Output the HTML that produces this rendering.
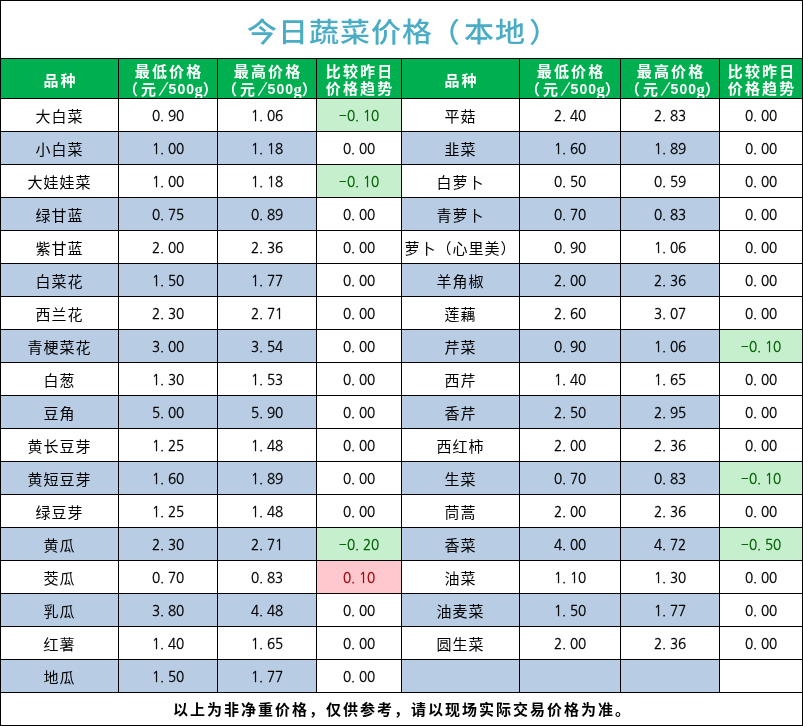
<!DOCTYPE html><html lang="zh-CN"><head><meta charset="utf-8"><title>今日蔬菜价格</title><style>
*{margin:0;padding:0;box-sizing:border-box}
html,body{width:803px;height:726px;background:#fff;overflow:hidden}
body{position:relative;font-family:"Liberation Sans","Noto Sans CJK SC",sans-serif}
.f{position:absolute}
.c{position:absolute;white-space:nowrap;text-align:center}
.t{font-family:"Liberation Sans","Noto Sans CJK SC",sans-serif;font-size:15px;letter-spacing:1px;text-indent:0px;line-height:32px;color:#000}
.t span{display:inline-block;transform:scaleY(1);position:relative;top:2px}
.n{font-family:"NanumGothic","Liberation Sans",sans-serif;font-size:13.5px;line-height:32px;color:#000}
.n span{display:inline-block;position:relative;top:1px;left:0px}
.n i{font-style:normal;display:inline-block;width:8px;text-align:left;-webkit-text-stroke:0.3px currentColor}
.n i.d{text-indent:0px}
.n i.m{position:relative;top:-1px;-webkit-text-stroke:0;font-family:"Liberation Sans",sans-serif}
.h{font-family:"Liberation Sans","Noto Sans CJK SC",sans-serif;font-weight:700;font-size:15px;color:#fff;line-height:17px;letter-spacing:2.2px;text-indent:2.2px}
.p{position:absolute;white-space:nowrap;font-family:"Liberation Sans","Noto Sans CJK SC",sans-serif;font-weight:700;font-size:15px;color:#fff;line-height:17px}
.p.g{font-family:"Liberation Serif",serif;font-size:16.5px}
.p.s{font-family:"Liberation Sans",sans-serif;font-size:14px;letter-spacing:1px}
.lh{position:absolute;background:#000;height:1px}
.lv{position:absolute;background:#000;width:1px}
.title{position:absolute;left:1px;top:4px;width:801px;height:57px;line-height:57px;text-align:center;font-family:"Liberation Sans","Noto Sans CJK SC",sans-serif;font-size:30px;font-weight:500;color:#4BACC6;transform:scaleY(0.92);letter-spacing:1px;text-indent:1px;white-space:nowrap}
.foot{position:absolute;left:1px;top:694px;width:801px;height:32px;line-height:32px;text-align:center;font-family:"Liberation Sans","Noto Sans CJK SC",sans-serif;font-size:15px;font-weight:700;color:#000;letter-spacing:2px;text-indent:2px;white-space:nowrap}
</style></head><body>
<div class="title">今日蔬菜价格<span style="position:relative;left:-3px">（</span>本地<span style="position:relative;left:3px">）</span></div>
<div class="f" style="left:1px;top:59px;width:117px;height:39px;background:#00B050"></div>
<div class="f" style="left:119px;top:59px;width:98px;height:39px;background:#00B050"></div>
<div class="f" style="left:218px;top:59px;width:98px;height:39px;background:#00B050"></div>
<div class="f" style="left:317px;top:59px;width:84px;height:39px;background:#00B050"></div>
<div class="f" style="left:402px;top:59px;width:117px;height:39px;background:#00B050"></div>
<div class="f" style="left:520px;top:59px;width:100px;height:39px;background:#00B050"></div>
<div class="f" style="left:621px;top:59px;width:98px;height:39px;background:#00B050"></div>
<div class="f" style="left:720px;top:59px;width:82px;height:39px;background:#00B050"></div>
<div class="c h" style="left:1px;top:72px;width:117px">品种</div>
<div class="c h" style="left:119px;top:63px;width:98px">最低价格</div>
<div class="p" style="left:123.0px;top:81px">（</div>
<div class="p" style="left:141.0px;top:81px">元</div>
<div class="p" style="left:161.0px;top:79.5px;font-weight:400;font-family:DejaVu Sans,sans-serif;transform:skewX(-18deg);font-size:16px">/</div>
<div class="p s" style="left:168.6px;top:81px">500</div>
<div class="p g" style="left:194.5px;top:80.5px">g</div>
<div class="p" style="left:202.7px;top:81px">）</div>
<div class="c h" style="left:218px;top:63px;width:98px">最高价格</div>
<div class="p" style="left:222.0px;top:81px">（</div>
<div class="p" style="left:240.0px;top:81px">元</div>
<div class="p" style="left:260.0px;top:79.5px;font-weight:400;font-family:DejaVu Sans,sans-serif;transform:skewX(-18deg);font-size:16px">/</div>
<div class="p s" style="left:267.6px;top:81px">500</div>
<div class="p g" style="left:293.5px;top:80.5px">g</div>
<div class="p" style="left:301.7px;top:81px">）</div>
<div class="c h" style="left:317px;top:63px;width:84px">比较昨日</div>
<div class="c h" style="left:317px;top:80px;width:84px">价格趋势</div>
<div class="c h" style="left:402px;top:72px;width:117px">品种</div>
<div class="c h" style="left:520px;top:63px;width:100px">最低价格</div>
<div class="p" style="left:525.0px;top:81px">（</div>
<div class="p" style="left:543.0px;top:81px">元</div>
<div class="p" style="left:563.0px;top:79.5px;font-weight:400;font-family:DejaVu Sans,sans-serif;transform:skewX(-18deg);font-size:16px">/</div>
<div class="p s" style="left:570.6px;top:81px">500</div>
<div class="p g" style="left:596.5px;top:80.5px">g</div>
<div class="p" style="left:604.7px;top:81px">）</div>
<div class="c h" style="left:621px;top:63px;width:98px">最高价格</div>
<div class="p" style="left:625.0px;top:81px">（</div>
<div class="p" style="left:643.0px;top:81px">元</div>
<div class="p" style="left:663.0px;top:79.5px;font-weight:400;font-family:DejaVu Sans,sans-serif;transform:skewX(-18deg);font-size:16px">/</div>
<div class="p s" style="left:670.6px;top:81px">500</div>
<div class="p g" style="left:696.5px;top:80.5px">g</div>
<div class="p" style="left:704.7px;top:81px">）</div>
<div class="c h" style="left:720px;top:63px;width:82px">比较昨日</div>
<div class="c h" style="left:720px;top:80px;width:82px">价格趋势</div>
<div class="c t" style="left:1px;top:99px;width:117px;height:32px;"><span>大白菜</span></div>
<div class="c n" style="left:119px;top:99px;width:98px;height:32px;text-align:left;padding-left:33px;"><span><i>0</i><i class="d">.</i><i>9</i><i>0</i></span></div>
<div class="c n" style="left:218px;top:99px;width:98px;height:32px;text-align:left;padding-left:33px;"><span><i>1</i><i class="d">.</i><i>0</i><i>6</i></span></div>
<div class="c n" style="left:317px;top:99px;width:84px;height:32px;background:#C6EFCE;color:#006100;text-align:left;padding-left:22px;"><span><i class="m">−</i><i>0</i><i class="d">.</i><i>1</i><i>0</i></span></div>
<div class="c t" style="left:402px;top:99px;width:117px;height:32px;"><span>平菇</span></div>
<div class="c n" style="left:520px;top:99px;width:100px;height:32px;text-align:left;padding-left:34px;"><span><i>2</i><i class="d">.</i><i>4</i><i>0</i></span></div>
<div class="c n" style="left:621px;top:99px;width:98px;height:32px;text-align:left;padding-left:33px;"><span><i>2</i><i class="d">.</i><i>8</i><i>3</i></span></div>
<div class="c n" style="left:720px;top:99px;width:82px;height:32px;text-align:left;padding-left:25px;"><span><i>0</i><i class="d">.</i><i>0</i><i>0</i></span></div>
<div class="c t" style="left:1px;top:132px;width:117px;height:32px;background:#B8CCE4;"><span>小白菜</span></div>
<div class="c n" style="left:119px;top:132px;width:98px;height:32px;background:#B8CCE4;text-align:left;padding-left:33px;"><span><i>1</i><i class="d">.</i><i>0</i><i>0</i></span></div>
<div class="c n" style="left:218px;top:132px;width:98px;height:32px;background:#B8CCE4;text-align:left;padding-left:33px;"><span><i>1</i><i class="d">.</i><i>1</i><i>8</i></span></div>
<div class="c n" style="left:317px;top:132px;width:84px;height:32px;text-align:left;padding-left:26px;"><span><i>0</i><i class="d">.</i><i>0</i><i>0</i></span></div>
<div class="c t" style="left:402px;top:132px;width:117px;height:32px;background:#B8CCE4;"><span>韭菜</span></div>
<div class="c n" style="left:520px;top:132px;width:100px;height:32px;background:#B8CCE4;text-align:left;padding-left:34px;"><span><i>1</i><i class="d">.</i><i>6</i><i>0</i></span></div>
<div class="c n" style="left:621px;top:132px;width:98px;height:32px;background:#B8CCE4;text-align:left;padding-left:33px;"><span><i>1</i><i class="d">.</i><i>8</i><i>9</i></span></div>
<div class="c n" style="left:720px;top:132px;width:82px;height:32px;text-align:left;padding-left:25px;"><span><i>0</i><i class="d">.</i><i>0</i><i>0</i></span></div>
<div class="c t" style="left:1px;top:165px;width:117px;height:32px;"><span>大娃娃菜</span></div>
<div class="c n" style="left:119px;top:165px;width:98px;height:32px;text-align:left;padding-left:33px;"><span><i>1</i><i class="d">.</i><i>0</i><i>0</i></span></div>
<div class="c n" style="left:218px;top:165px;width:98px;height:32px;text-align:left;padding-left:33px;"><span><i>1</i><i class="d">.</i><i>1</i><i>8</i></span></div>
<div class="c n" style="left:317px;top:165px;width:84px;height:32px;background:#C6EFCE;color:#006100;text-align:left;padding-left:22px;"><span><i class="m">−</i><i>0</i><i class="d">.</i><i>1</i><i>0</i></span></div>
<div class="c t" style="left:402px;top:165px;width:117px;height:32px;"><span>白萝卜</span></div>
<div class="c n" style="left:520px;top:165px;width:100px;height:32px;text-align:left;padding-left:34px;"><span><i>0</i><i class="d">.</i><i>5</i><i>0</i></span></div>
<div class="c n" style="left:621px;top:165px;width:98px;height:32px;text-align:left;padding-left:33px;"><span><i>0</i><i class="d">.</i><i>5</i><i>9</i></span></div>
<div class="c n" style="left:720px;top:165px;width:82px;height:32px;text-align:left;padding-left:25px;"><span><i>0</i><i class="d">.</i><i>0</i><i>0</i></span></div>
<div class="c t" style="left:1px;top:198px;width:117px;height:32px;background:#B8CCE4;"><span>绿甘蓝</span></div>
<div class="c n" style="left:119px;top:198px;width:98px;height:32px;background:#B8CCE4;text-align:left;padding-left:33px;"><span><i>0</i><i class="d">.</i><i>7</i><i>5</i></span></div>
<div class="c n" style="left:218px;top:198px;width:98px;height:32px;background:#B8CCE4;text-align:left;padding-left:33px;"><span><i>0</i><i class="d">.</i><i>8</i><i>9</i></span></div>
<div class="c n" style="left:317px;top:198px;width:84px;height:32px;text-align:left;padding-left:26px;"><span><i>0</i><i class="d">.</i><i>0</i><i>0</i></span></div>
<div class="c t" style="left:402px;top:198px;width:117px;height:32px;background:#B8CCE4;"><span>青萝卜</span></div>
<div class="c n" style="left:520px;top:198px;width:100px;height:32px;background:#B8CCE4;text-align:left;padding-left:34px;"><span><i>0</i><i class="d">.</i><i>7</i><i>0</i></span></div>
<div class="c n" style="left:621px;top:198px;width:98px;height:32px;background:#B8CCE4;text-align:left;padding-left:33px;"><span><i>0</i><i class="d">.</i><i>8</i><i>3</i></span></div>
<div class="c n" style="left:720px;top:198px;width:82px;height:32px;text-align:left;padding-left:25px;"><span><i>0</i><i class="d">.</i><i>0</i><i>0</i></span></div>
<div class="c t" style="left:1px;top:231px;width:117px;height:32px;"><span>紫甘蓝</span></div>
<div class="c n" style="left:119px;top:231px;width:98px;height:32px;text-align:left;padding-left:33px;"><span><i>2</i><i class="d">.</i><i>0</i><i>0</i></span></div>
<div class="c n" style="left:218px;top:231px;width:98px;height:32px;text-align:left;padding-left:33px;"><span><i>2</i><i class="d">.</i><i>3</i><i>6</i></span></div>
<div class="c n" style="left:317px;top:231px;width:84px;height:32px;text-align:left;padding-left:26px;"><span><i>0</i><i class="d">.</i><i>0</i><i>0</i></span></div>
<div class="c t" style="left:402px;top:231px;width:117px;height:32px;"><span>萝卜（心里美）</span></div>
<div class="c n" style="left:520px;top:231px;width:100px;height:32px;text-align:left;padding-left:34px;"><span><i>0</i><i class="d">.</i><i>9</i><i>0</i></span></div>
<div class="c n" style="left:621px;top:231px;width:98px;height:32px;text-align:left;padding-left:33px;"><span><i>1</i><i class="d">.</i><i>0</i><i>6</i></span></div>
<div class="c n" style="left:720px;top:231px;width:82px;height:32px;text-align:left;padding-left:25px;"><span><i>0</i><i class="d">.</i><i>0</i><i>0</i></span></div>
<div class="c t" style="left:1px;top:264px;width:117px;height:32px;background:#B8CCE4;"><span>白菜花</span></div>
<div class="c n" style="left:119px;top:264px;width:98px;height:32px;background:#B8CCE4;text-align:left;padding-left:33px;"><span><i>1</i><i class="d">.</i><i>5</i><i>0</i></span></div>
<div class="c n" style="left:218px;top:264px;width:98px;height:32px;background:#B8CCE4;text-align:left;padding-left:33px;"><span><i>1</i><i class="d">.</i><i>7</i><i>7</i></span></div>
<div class="c n" style="left:317px;top:264px;width:84px;height:32px;text-align:left;padding-left:26px;"><span><i>0</i><i class="d">.</i><i>0</i><i>0</i></span></div>
<div class="c t" style="left:402px;top:264px;width:117px;height:32px;background:#B8CCE4;"><span>羊角椒</span></div>
<div class="c n" style="left:520px;top:264px;width:100px;height:32px;background:#B8CCE4;text-align:left;padding-left:34px;"><span><i>2</i><i class="d">.</i><i>0</i><i>0</i></span></div>
<div class="c n" style="left:621px;top:264px;width:98px;height:32px;background:#B8CCE4;text-align:left;padding-left:33px;"><span><i>2</i><i class="d">.</i><i>3</i><i>6</i></span></div>
<div class="c n" style="left:720px;top:264px;width:82px;height:32px;text-align:left;padding-left:25px;"><span><i>0</i><i class="d">.</i><i>0</i><i>0</i></span></div>
<div class="c t" style="left:1px;top:297px;width:117px;height:32px;"><span>西兰花</span></div>
<div class="c n" style="left:119px;top:297px;width:98px;height:32px;text-align:left;padding-left:33px;"><span><i>2</i><i class="d">.</i><i>3</i><i>0</i></span></div>
<div class="c n" style="left:218px;top:297px;width:98px;height:32px;text-align:left;padding-left:33px;"><span><i>2</i><i class="d">.</i><i>7</i><i>1</i></span></div>
<div class="c n" style="left:317px;top:297px;width:84px;height:32px;text-align:left;padding-left:26px;"><span><i>0</i><i class="d">.</i><i>0</i><i>0</i></span></div>
<div class="c t" style="left:402px;top:297px;width:117px;height:32px;"><span>莲藕</span></div>
<div class="c n" style="left:520px;top:297px;width:100px;height:32px;text-align:left;padding-left:34px;"><span><i>2</i><i class="d">.</i><i>6</i><i>0</i></span></div>
<div class="c n" style="left:621px;top:297px;width:98px;height:32px;text-align:left;padding-left:33px;"><span><i>3</i><i class="d">.</i><i>0</i><i>7</i></span></div>
<div class="c n" style="left:720px;top:297px;width:82px;height:32px;text-align:left;padding-left:25px;"><span><i>0</i><i class="d">.</i><i>0</i><i>0</i></span></div>
<div class="c t" style="left:1px;top:330px;width:117px;height:32px;background:#B8CCE4;"><span>青梗菜花</span></div>
<div class="c n" style="left:119px;top:330px;width:98px;height:32px;background:#B8CCE4;text-align:left;padding-left:33px;"><span><i>3</i><i class="d">.</i><i>0</i><i>0</i></span></div>
<div class="c n" style="left:218px;top:330px;width:98px;height:32px;background:#B8CCE4;text-align:left;padding-left:33px;"><span><i>3</i><i class="d">.</i><i>5</i><i>4</i></span></div>
<div class="c n" style="left:317px;top:330px;width:84px;height:32px;text-align:left;padding-left:26px;"><span><i>0</i><i class="d">.</i><i>0</i><i>0</i></span></div>
<div class="c t" style="left:402px;top:330px;width:117px;height:32px;background:#B8CCE4;"><span>芹菜</span></div>
<div class="c n" style="left:520px;top:330px;width:100px;height:32px;background:#B8CCE4;text-align:left;padding-left:34px;"><span><i>0</i><i class="d">.</i><i>9</i><i>0</i></span></div>
<div class="c n" style="left:621px;top:330px;width:98px;height:32px;background:#B8CCE4;text-align:left;padding-left:33px;"><span><i>1</i><i class="d">.</i><i>0</i><i>6</i></span></div>
<div class="c n" style="left:720px;top:330px;width:82px;height:32px;background:#C6EFCE;color:#006100;text-align:left;padding-left:21px;"><span><i class="m">−</i><i>0</i><i class="d">.</i><i>1</i><i>0</i></span></div>
<div class="c t" style="left:1px;top:363px;width:117px;height:32px;"><span>白葱</span></div>
<div class="c n" style="left:119px;top:363px;width:98px;height:32px;text-align:left;padding-left:33px;"><span><i>1</i><i class="d">.</i><i>3</i><i>0</i></span></div>
<div class="c n" style="left:218px;top:363px;width:98px;height:32px;text-align:left;padding-left:33px;"><span><i>1</i><i class="d">.</i><i>5</i><i>3</i></span></div>
<div class="c n" style="left:317px;top:363px;width:84px;height:32px;text-align:left;padding-left:26px;"><span><i>0</i><i class="d">.</i><i>0</i><i>0</i></span></div>
<div class="c t" style="left:402px;top:363px;width:117px;height:32px;"><span>西芹</span></div>
<div class="c n" style="left:520px;top:363px;width:100px;height:32px;text-align:left;padding-left:34px;"><span><i>1</i><i class="d">.</i><i>4</i><i>0</i></span></div>
<div class="c n" style="left:621px;top:363px;width:98px;height:32px;text-align:left;padding-left:33px;"><span><i>1</i><i class="d">.</i><i>6</i><i>5</i></span></div>
<div class="c n" style="left:720px;top:363px;width:82px;height:32px;text-align:left;padding-left:25px;"><span><i>0</i><i class="d">.</i><i>0</i><i>0</i></span></div>
<div class="c t" style="left:1px;top:396px;width:117px;height:32px;background:#B8CCE4;"><span>豆角</span></div>
<div class="c n" style="left:119px;top:396px;width:98px;height:32px;background:#B8CCE4;text-align:left;padding-left:33px;"><span><i>5</i><i class="d">.</i><i>0</i><i>0</i></span></div>
<div class="c n" style="left:218px;top:396px;width:98px;height:32px;background:#B8CCE4;text-align:left;padding-left:33px;"><span><i>5</i><i class="d">.</i><i>9</i><i>0</i></span></div>
<div class="c n" style="left:317px;top:396px;width:84px;height:32px;text-align:left;padding-left:26px;"><span><i>0</i><i class="d">.</i><i>0</i><i>0</i></span></div>
<div class="c t" style="left:402px;top:396px;width:117px;height:32px;background:#B8CCE4;"><span>香芹</span></div>
<div class="c n" style="left:520px;top:396px;width:100px;height:32px;background:#B8CCE4;text-align:left;padding-left:34px;"><span><i>2</i><i class="d">.</i><i>5</i><i>0</i></span></div>
<div class="c n" style="left:621px;top:396px;width:98px;height:32px;background:#B8CCE4;text-align:left;padding-left:33px;"><span><i>2</i><i class="d">.</i><i>9</i><i>5</i></span></div>
<div class="c n" style="left:720px;top:396px;width:82px;height:32px;text-align:left;padding-left:25px;"><span><i>0</i><i class="d">.</i><i>0</i><i>0</i></span></div>
<div class="c t" style="left:1px;top:429px;width:117px;height:32px;"><span>黄长豆芽</span></div>
<div class="c n" style="left:119px;top:429px;width:98px;height:32px;text-align:left;padding-left:33px;"><span><i>1</i><i class="d">.</i><i>2</i><i>5</i></span></div>
<div class="c n" style="left:218px;top:429px;width:98px;height:32px;text-align:left;padding-left:33px;"><span><i>1</i><i class="d">.</i><i>4</i><i>8</i></span></div>
<div class="c n" style="left:317px;top:429px;width:84px;height:32px;text-align:left;padding-left:26px;"><span><i>0</i><i class="d">.</i><i>0</i><i>0</i></span></div>
<div class="c t" style="left:402px;top:429px;width:117px;height:32px;"><span>西红柿</span></div>
<div class="c n" style="left:520px;top:429px;width:100px;height:32px;text-align:left;padding-left:34px;"><span><i>2</i><i class="d">.</i><i>0</i><i>0</i></span></div>
<div class="c n" style="left:621px;top:429px;width:98px;height:32px;text-align:left;padding-left:33px;"><span><i>2</i><i class="d">.</i><i>3</i><i>6</i></span></div>
<div class="c n" style="left:720px;top:429px;width:82px;height:32px;text-align:left;padding-left:25px;"><span><i>0</i><i class="d">.</i><i>0</i><i>0</i></span></div>
<div class="c t" style="left:1px;top:462px;width:117px;height:32px;background:#B8CCE4;"><span>黄短豆芽</span></div>
<div class="c n" style="left:119px;top:462px;width:98px;height:32px;background:#B8CCE4;text-align:left;padding-left:33px;"><span><i>1</i><i class="d">.</i><i>6</i><i>0</i></span></div>
<div class="c n" style="left:218px;top:462px;width:98px;height:32px;background:#B8CCE4;text-align:left;padding-left:33px;"><span><i>1</i><i class="d">.</i><i>8</i><i>9</i></span></div>
<div class="c n" style="left:317px;top:462px;width:84px;height:32px;text-align:left;padding-left:26px;"><span><i>0</i><i class="d">.</i><i>0</i><i>0</i></span></div>
<div class="c t" style="left:402px;top:462px;width:117px;height:32px;background:#B8CCE4;"><span>生菜</span></div>
<div class="c n" style="left:520px;top:462px;width:100px;height:32px;background:#B8CCE4;text-align:left;padding-left:34px;"><span><i>0</i><i class="d">.</i><i>7</i><i>0</i></span></div>
<div class="c n" style="left:621px;top:462px;width:98px;height:32px;background:#B8CCE4;text-align:left;padding-left:33px;"><span><i>0</i><i class="d">.</i><i>8</i><i>3</i></span></div>
<div class="c n" style="left:720px;top:462px;width:82px;height:32px;background:#C6EFCE;color:#006100;text-align:left;padding-left:21px;"><span><i class="m">−</i><i>0</i><i class="d">.</i><i>1</i><i>0</i></span></div>
<div class="c t" style="left:1px;top:495px;width:117px;height:32px;"><span>绿豆芽</span></div>
<div class="c n" style="left:119px;top:495px;width:98px;height:32px;text-align:left;padding-left:33px;"><span><i>1</i><i class="d">.</i><i>2</i><i>5</i></span></div>
<div class="c n" style="left:218px;top:495px;width:98px;height:32px;text-align:left;padding-left:33px;"><span><i>1</i><i class="d">.</i><i>4</i><i>8</i></span></div>
<div class="c n" style="left:317px;top:495px;width:84px;height:32px;text-align:left;padding-left:26px;"><span><i>0</i><i class="d">.</i><i>0</i><i>0</i></span></div>
<div class="c t" style="left:402px;top:495px;width:117px;height:32px;"><span>茼蒿</span></div>
<div class="c n" style="left:520px;top:495px;width:100px;height:32px;text-align:left;padding-left:34px;"><span><i>2</i><i class="d">.</i><i>0</i><i>0</i></span></div>
<div class="c n" style="left:621px;top:495px;width:98px;height:32px;text-align:left;padding-left:33px;"><span><i>2</i><i class="d">.</i><i>3</i><i>6</i></span></div>
<div class="c n" style="left:720px;top:495px;width:82px;height:32px;text-align:left;padding-left:25px;"><span><i>0</i><i class="d">.</i><i>0</i><i>0</i></span></div>
<div class="c t" style="left:1px;top:528px;width:117px;height:32px;background:#B8CCE4;"><span>黄瓜</span></div>
<div class="c n" style="left:119px;top:528px;width:98px;height:32px;background:#B8CCE4;text-align:left;padding-left:33px;"><span><i>2</i><i class="d">.</i><i>3</i><i>0</i></span></div>
<div class="c n" style="left:218px;top:528px;width:98px;height:32px;background:#B8CCE4;text-align:left;padding-left:33px;"><span><i>2</i><i class="d">.</i><i>7</i><i>1</i></span></div>
<div class="c n" style="left:317px;top:528px;width:84px;height:32px;background:#C6EFCE;color:#006100;text-align:left;padding-left:22px;"><span><i class="m">−</i><i>0</i><i class="d">.</i><i>2</i><i>0</i></span></div>
<div class="c t" style="left:402px;top:528px;width:117px;height:32px;background:#B8CCE4;"><span>香菜</span></div>
<div class="c n" style="left:520px;top:528px;width:100px;height:32px;background:#B8CCE4;text-align:left;padding-left:34px;"><span><i>4</i><i class="d">.</i><i>0</i><i>0</i></span></div>
<div class="c n" style="left:621px;top:528px;width:98px;height:32px;background:#B8CCE4;text-align:left;padding-left:33px;"><span><i>4</i><i class="d">.</i><i>7</i><i>2</i></span></div>
<div class="c n" style="left:720px;top:528px;width:82px;height:32px;background:#C6EFCE;color:#006100;text-align:left;padding-left:21px;"><span><i class="m">−</i><i>0</i><i class="d">.</i><i>5</i><i>0</i></span></div>
<div class="c t" style="left:1px;top:561px;width:117px;height:32px;"><span>茭瓜</span></div>
<div class="c n" style="left:119px;top:561px;width:98px;height:32px;text-align:left;padding-left:33px;"><span><i>0</i><i class="d">.</i><i>7</i><i>0</i></span></div>
<div class="c n" style="left:218px;top:561px;width:98px;height:32px;text-align:left;padding-left:33px;"><span><i>0</i><i class="d">.</i><i>8</i><i>3</i></span></div>
<div class="c n" style="left:317px;top:561px;width:84px;height:32px;background:#FFC7CE;color:#9C0006;text-align:left;padding-left:26px;"><span><i>0</i><i class="d">.</i><i>1</i><i>0</i></span></div>
<div class="c t" style="left:402px;top:561px;width:117px;height:32px;"><span>油菜</span></div>
<div class="c n" style="left:520px;top:561px;width:100px;height:32px;text-align:left;padding-left:34px;"><span><i>1</i><i class="d">.</i><i>1</i><i>0</i></span></div>
<div class="c n" style="left:621px;top:561px;width:98px;height:32px;text-align:left;padding-left:33px;"><span><i>1</i><i class="d">.</i><i>3</i><i>0</i></span></div>
<div class="c n" style="left:720px;top:561px;width:82px;height:32px;text-align:left;padding-left:25px;"><span><i>0</i><i class="d">.</i><i>0</i><i>0</i></span></div>
<div class="c t" style="left:1px;top:594px;width:117px;height:32px;background:#B8CCE4;"><span>乳瓜</span></div>
<div class="c n" style="left:119px;top:594px;width:98px;height:32px;background:#B8CCE4;text-align:left;padding-left:33px;"><span><i>3</i><i class="d">.</i><i>8</i><i>0</i></span></div>
<div class="c n" style="left:218px;top:594px;width:98px;height:32px;background:#B8CCE4;text-align:left;padding-left:33px;"><span><i>4</i><i class="d">.</i><i>4</i><i>8</i></span></div>
<div class="c n" style="left:317px;top:594px;width:84px;height:32px;text-align:left;padding-left:26px;"><span><i>0</i><i class="d">.</i><i>0</i><i>0</i></span></div>
<div class="c t" style="left:402px;top:594px;width:117px;height:32px;background:#B8CCE4;"><span>油麦菜</span></div>
<div class="c n" style="left:520px;top:594px;width:100px;height:32px;background:#B8CCE4;text-align:left;padding-left:34px;"><span><i>1</i><i class="d">.</i><i>5</i><i>0</i></span></div>
<div class="c n" style="left:621px;top:594px;width:98px;height:32px;background:#B8CCE4;text-align:left;padding-left:33px;"><span><i>1</i><i class="d">.</i><i>7</i><i>7</i></span></div>
<div class="c n" style="left:720px;top:594px;width:82px;height:32px;text-align:left;padding-left:25px;"><span><i>0</i><i class="d">.</i><i>0</i><i>0</i></span></div>
<div class="c t" style="left:1px;top:627px;width:117px;height:32px;"><span>红薯</span></div>
<div class="c n" style="left:119px;top:627px;width:98px;height:32px;text-align:left;padding-left:33px;"><span><i>1</i><i class="d">.</i><i>4</i><i>0</i></span></div>
<div class="c n" style="left:218px;top:627px;width:98px;height:32px;text-align:left;padding-left:33px;"><span><i>1</i><i class="d">.</i><i>6</i><i>5</i></span></div>
<div class="c n" style="left:317px;top:627px;width:84px;height:32px;text-align:left;padding-left:26px;"><span><i>0</i><i class="d">.</i><i>0</i><i>0</i></span></div>
<div class="c t" style="left:402px;top:627px;width:117px;height:32px;"><span>圆生菜</span></div>
<div class="c n" style="left:520px;top:627px;width:100px;height:32px;text-align:left;padding-left:34px;"><span><i>2</i><i class="d">.</i><i>0</i><i>0</i></span></div>
<div class="c n" style="left:621px;top:627px;width:98px;height:32px;text-align:left;padding-left:33px;"><span><i>2</i><i class="d">.</i><i>3</i><i>6</i></span></div>
<div class="c n" style="left:720px;top:627px;width:82px;height:32px;text-align:left;padding-left:25px;"><span><i>0</i><i class="d">.</i><i>0</i><i>0</i></span></div>
<div class="c t" style="left:1px;top:660px;width:117px;height:32px;background:#B8CCE4;"><span>地瓜</span></div>
<div class="c n" style="left:119px;top:660px;width:98px;height:32px;background:#B8CCE4;text-align:left;padding-left:33px;"><span><i>1</i><i class="d">.</i><i>5</i><i>0</i></span></div>
<div class="c n" style="left:218px;top:660px;width:98px;height:32px;background:#B8CCE4;text-align:left;padding-left:33px;"><span><i>1</i><i class="d">.</i><i>7</i><i>7</i></span></div>
<div class="c n" style="left:317px;top:660px;width:84px;height:32px;text-align:left;padding-left:26px;"><span><i>0</i><i class="d">.</i><i>0</i><i>0</i></span></div>
<div class="c t" style="left:402px;top:660px;width:117px;height:32px;background:#B8CCE4;"></div>
<div class="c n" style="left:520px;top:660px;width:100px;height:32px;background:#B8CCE4;"></div>
<div class="c n" style="left:621px;top:660px;width:98px;height:32px;background:#B8CCE4;"></div>
<div class="c n" style="left:720px;top:660px;width:82px;height:32px;"></div>
<div class="foot">以上为非净重价格，仅供参考，请以现场实际交易价格为准。</div>
<div class="lh" style="left:0;top:0;width:803px"></div>
<div class="lh" style="left:0;top:725px;width:803px"></div>
<div class="lv" style="left:0;top:0;height:726px"></div>
<div class="lv" style="left:802px;top:0;height:726px"></div>
<div class="lh" style="left:0;top:58px;width:803px"></div>
<div class="lh" style="left:0;top:98px;width:803px"></div>
<div class="lh" style="left:0;top:131px;width:803px"></div>
<div class="lh" style="left:0;top:164px;width:803px"></div>
<div class="lh" style="left:0;top:197px;width:803px"></div>
<div class="lh" style="left:0;top:230px;width:803px"></div>
<div class="lh" style="left:0;top:263px;width:803px"></div>
<div class="lh" style="left:0;top:296px;width:803px"></div>
<div class="lh" style="left:0;top:329px;width:803px"></div>
<div class="lh" style="left:0;top:362px;width:803px"></div>
<div class="lh" style="left:0;top:395px;width:803px"></div>
<div class="lh" style="left:0;top:428px;width:803px"></div>
<div class="lh" style="left:0;top:461px;width:803px"></div>
<div class="lh" style="left:0;top:494px;width:803px"></div>
<div class="lh" style="left:0;top:527px;width:803px"></div>
<div class="lh" style="left:0;top:560px;width:803px"></div>
<div class="lh" style="left:0;top:593px;width:803px"></div>
<div class="lh" style="left:0;top:626px;width:803px"></div>
<div class="lh" style="left:0;top:659px;width:803px"></div>
<div class="lh" style="left:0;top:692px;width:803px"></div>
<div class="lv" style="left:118px;top:58px;height:635px"></div>
<div class="lv" style="left:217px;top:58px;height:635px"></div>
<div class="lv" style="left:316px;top:58px;height:635px"></div>
<div class="lv" style="left:401px;top:58px;height:635px"></div>
<div class="lv" style="left:519px;top:58px;height:635px"></div>
<div class="lv" style="left:620px;top:58px;height:635px"></div>
<div class="lv" style="left:719px;top:58px;height:635px"></div>
</body></html>
